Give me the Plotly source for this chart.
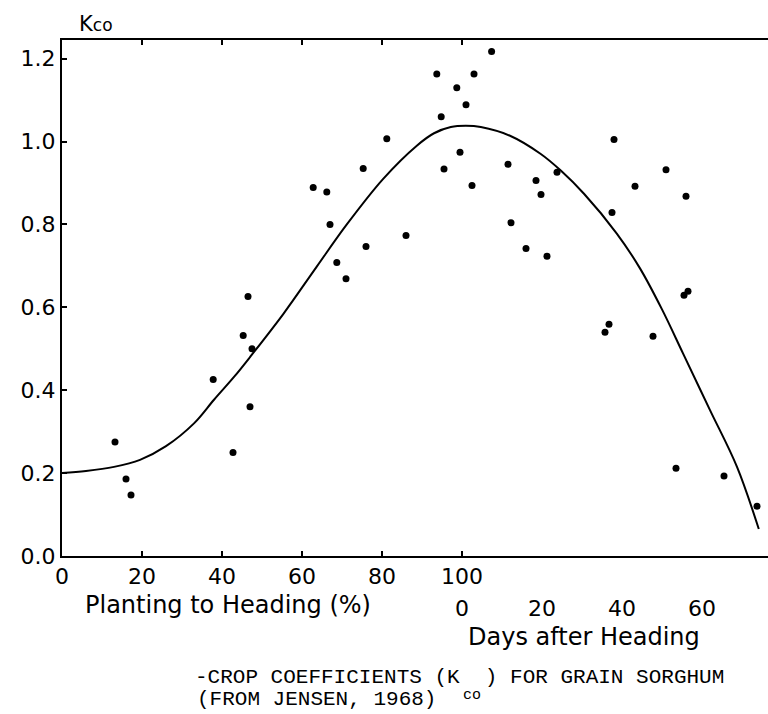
import plotly.graph_objects as go

# ---- data ----
# scatter points, planting-to-heading phase: (% of planting to heading, Kco)
plant_pct = [13.25, 16, 17.25, 37.8, 42.75, 45.3, 46.5, 47, 47.5, 62.8, 66.2, 67,
             68.7, 71, 75.3, 76, 81.2, 86, 93.7, 94.8, 95.5, 98.7, 99.5]
plant_k = [0.275, 0.186, 0.147, 0.426, 0.25, 0.532, 0.626, 0.36, 0.50, 0.889, 0.878, 0.80,
           0.708, 0.669, 0.935, 0.747, 1.007, 0.773, 1.163, 1.06, 0.934, 1.13, 0.974]

# scatter points, after heading: (days after heading, Kco)
after_days = [1, 2.5, 3, 7.4, 11.5, 12.25, 16, 18.5, 19.75, 21.25, 23.75, 35.75,
              36.75, 37.5, 38, 43.25, 47.75, 51, 53.5, 55.5, 56.5, 56, 65.5, 73.75]
after_k = [1.089, 0.894, 1.163, 1.217, 0.945, 0.804, 0.742, 0.906, 0.872, 0.723, 0.926, 0.540,
           0.559, 0.829, 1.005, 0.892, 0.53, 0.932, 0.212, 0.629, 0.639, 0.868, 0.193, 0.12]

# fitted curve on the combined time scale (0-100 = % to heading, 100+ = 100 + days after heading)
curve_t = [0, 6, 13, 19.5, 26, 33, 38, 43, 47, 55.4, 63.6, 71.2, 80.3, 88.7,
           93, 97.2, 101, 104.7, 112, 119.7, 124.7, 130.5, 138.7, 144.5, 150, 155.25, 162,
           168.75, 174.2]
curve_k = [0.20, 0.205, 0.215, 0.232, 0.265, 0.32, 0.377, 0.432, 0.48, 0.585, 0.697, 0.80,
           0.91, 0.99, 1.02, 1.035, 1.038, 1.035, 1.014, 0.97, 0.93, 0.874, 0.778, 0.694, 0.595,
           0.489, 0.352, 0.215, 0.065]

HEADING = 100
pct_ticks = [0, 20, 40, 60, 80, 100]
day_ticks = [0, 20, 40, 60]
k_ticks = [0.0, 0.2, 0.4, 0.6, 0.8, 1.0, 1.2]

SANS = "DejaVu Sans"
MONO = "Liberation Mono"

W, H = 768, 714
L, T, PW, PH = 62, 40, 706, 516   # plot area in window pixels


def px(xw):
    return (xw - L) / PW


def py(yw):
    return (T + PH - yw) / PH


fig = go.Figure()
fig.add_trace(go.Scatter(x=curve_t, y=curve_k, mode="lines",
                         line=dict(color="black", width=2, shape="spline", smoothing=1.0),
                         hoverinfo="skip", showlegend=False))
fig.add_trace(go.Scatter(x=plant_pct, y=plant_k, mode="markers",
                         marker=dict(color="black", size=7), showlegend=False))
fig.add_trace(go.Scatter(x=[HEADING + d for d in after_days], y=after_k, mode="markers",
                         marker=dict(color="black", size=7), showlegend=False))

fig.update_layout(
    width=W, height=H,
    margin=dict(l=L, r=W - L - PW, t=T, b=H - T - PH),
    paper_bgcolor="white", plot_bgcolor="white",
    showlegend=False,
    font=dict(family=SANS, color="black"),
)
fig.update_xaxes(
    range=[0, 176.5], tickvals=pct_ticks, ticktext=[str(v) for v in pct_ticks],
    showgrid=False, zeroline=False, showline=True, linecolor="black", linewidth=2,
    mirror="ticks", ticks="inside", ticklen=5, tickcolor="black", tickwidth=1.5,
    tickfont=dict(family=SANS, size=22, color="black"),
)
fig.update_yaxes(
    range=[0, 1.245], tickvals=k_ticks, ticktext=[f"{v:.1f}" for v in k_ticks],
    showgrid=False, zeroline=False, showline=True, linecolor="black", linewidth=2,
    ticks="inside", ticklen=5, tickcolor="black", tickwidth=1.5,
    tickfont=dict(family=SANS, size=22, color="black"),
)

# second row of x tick labels: days after heading
for d in day_ticks:
    fig.add_annotation(x=HEADING + d, xref="x", y=py(608), yref="paper",
                       text=str(d), showarrow=False, xanchor="center", yanchor="middle",
                       font=dict(family=SANS, size=22, color="black"))

# axis titles
fig.add_annotation(x=px(228), y=py(605), xref="paper", yref="paper",
                   text="Planting to Heading (%)", showarrow=False,
                   xanchor="center", yanchor="middle",
                   font=dict(family=SANS, size=24, color="black"))
fig.add_annotation(x=px(584), y=py(637), xref="paper", yref="paper",
                   text="Days after Heading", showarrow=False,
                   xanchor="center", yanchor="middle",
                   font=dict(family=SANS, size=24, color="black"))
fig.add_annotation(x=px(77), y=py(24), xref="paper", yref="paper",
                   text="K<span style='font-size:17px'>co</span>", showarrow=False,
                   xanchor="left", yanchor="middle",
                   font=dict(family=SANS, size=21, color="black"))

# caption
fig.add_annotation(x=px(193), y=py(677), xref="paper", yref="paper",
                   text="-CROP COEFFICIENTS (K  ) FOR GRAIN SORGHUM", showarrow=False,
                   xanchor="left", yanchor="middle",
                   font=dict(family=MONO, size=21, color="black"))
fig.add_annotation(x=px(195), y=py(699), xref="paper", yref="paper",
                   text="(FROM JENSEN, 1968)", showarrow=False,
                   xanchor="left", yanchor="middle",
                   font=dict(family=MONO, size=21, color="black"))
fig.add_annotation(x=px(472), y=py(695), xref="paper", yref="paper",
                   text="co", showarrow=False,
                   xanchor="center", yanchor="middle",
                   font=dict(family=MONO, size=15, color="black"))

fig.write_html(
    "out.html",
    config={"displayModeBar": False},
    post_script="document.body.style.margin='0';document.body.style.overflow='hidden';",
)
